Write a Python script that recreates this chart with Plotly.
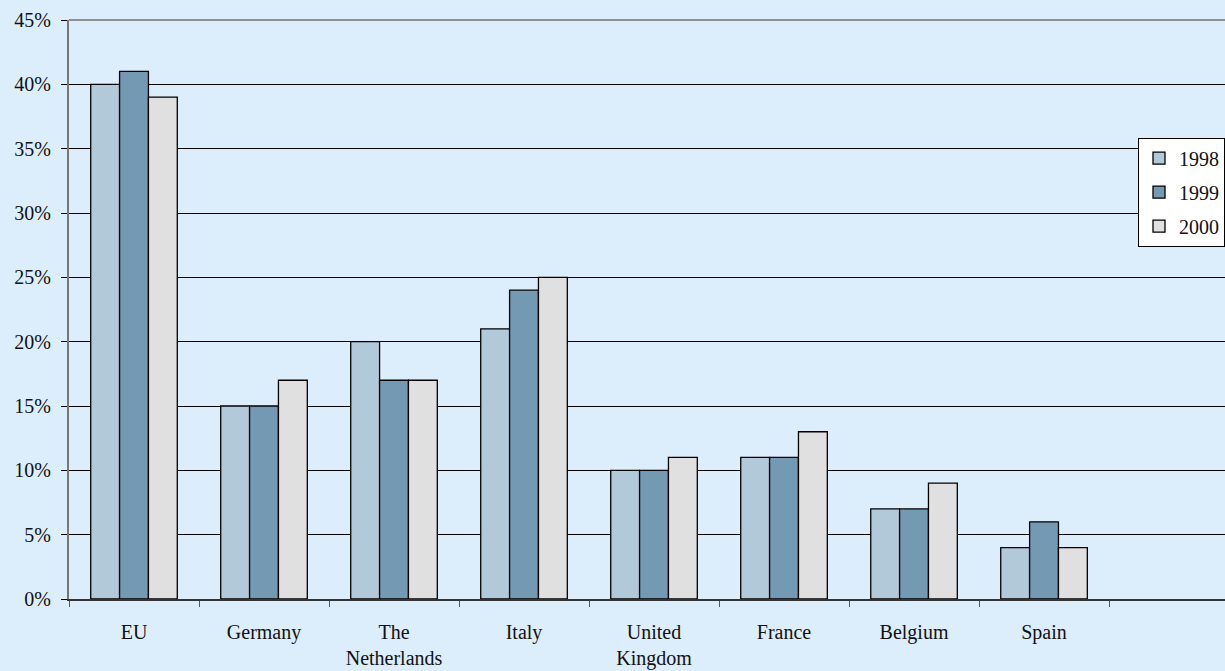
import plotly.graph_objects as go

categories = ["EU", "Germany", "The<br>Netherlands", "Italy", "United<br>Kingdom",
              "France", "Belgium", "Spain"]
series_names = ["1998", "1999", "2000"]
values_1998 = [40, 15, 20, 21, 10, 11, 7, 4]
values_1999 = [41, 15, 17, 24, 10, 11, 7, 6]
values_2000 = [39, 17, 17, 25, 11, 13, 9, 4]
y_ticks = [0, 5, 10, 15, 20, 25, 30, 35, 40, 45]
y_tick_labels = [f"{v}%" for v in y_ticks]

colors = ["#B2C9D9", "#7399B3", "#E0E0E0"]
bg = "#DCEEFC"
serif = "'Liberation Serif', 'Times New Roman', 'DejaVu Serif', serif"

fig = go.Figure()
for name, vals, col in zip(series_names, [values_1998, values_1999, values_2000], colors):
    fig.add_trace(go.Bar(
        x=categories, y=vals, name=name, legendgroup=name,
        marker=dict(color=col, line=dict(color="black", width=1.3)),
    ))

fig.update_layout(
    width=1225, height=671,
    margin=dict(l=69, r=0, t=20, b=72),
    paper_bgcolor=bg, plot_bgcolor=bg,
    font=dict(family=serif, size=20, color="#111111"),
    barmode="group", bargap=0.334, bargroupgap=0,
    showlegend=True,
    legend=dict(
        x=1, xanchor="right", y=0.797, yanchor="top",
        bgcolor="white", bordercolor="black", borderwidth=1,
        font=dict(family=serif, size=20), itemwidth=30, tracegroupgap=5,
        traceorder="grouped",
    ),
)

fig.update_xaxes(
    type="category", range=[-0.5, 8.392],
    tickson="boundaries", ticks="outside", ticklen=6, tickcolor="#555555",
    showline=True, linecolor="#333333", linewidth=1.5,
    showgrid=False, ticklabelstandoff=14,
    tickfont=dict(family=serif, size=20),
)
fig.update_yaxes(
    range=[0, 45], tickvals=y_ticks, ticktext=y_tick_labels,
    ticks="outside", ticklen=6, tickcolor="black",
    showline=True, linecolor="#777777", linewidth=2,
    showgrid=True, gridcolor="black", gridwidth=1,
    zeroline=False, ticklabelstandoff=6,
    tickfont=dict(family=serif, size=20),
)

fig.add_shape(type="line", xref="paper", yref="paper", x0=0, x1=1, y0=1, y1=1,
              line=dict(color="#909090", width=2), layer="above")

fig.write_html("out.html")
